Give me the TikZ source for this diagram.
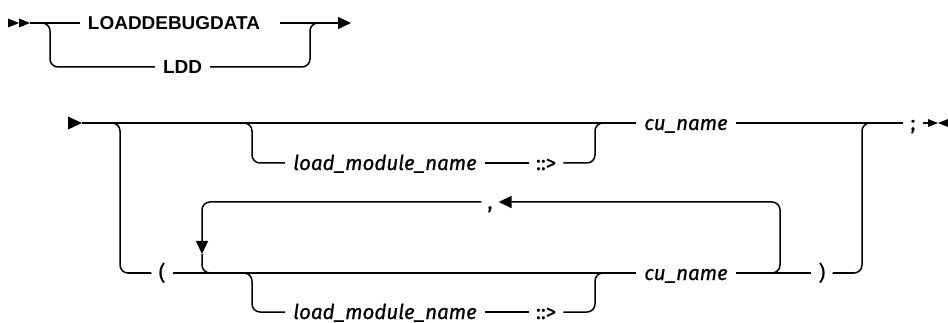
\documentclass[tikz,border=0pt]{standalone}
\usepackage{fontspec}
\usepackage{graphicx}
\setmainfont{Fira Sans}[FakeBold=0.8]
\newfontfamily\kwfont{Liberation Sans}
\usetikzlibrary{arrows.meta}
\tikzset{
  ln/.style={line width=1.5pt, line cap=butt},
  rr/.style={ln, rounded corners=8pt},
  kw/.style={font=\kwfont\bfseries\fontsize{18.7}{20}\selectfont, inner ysep=0pt, inner xsep=8pt, text height=13pt, text depth=0pt},
  var/.style={font=\fontsize{20.5}{22}\selectfont\itshape, inner ysep=0pt, inner xsep=8pt, text height=14pt, text depth=0pt},
  sym/.style={font=\fontsize{20.5}{22}\selectfont, inner ysep=0pt, inner xsep=7pt, text height=14pt, text depth=0pt},
  tip/.style={-{Triangle[length=13pt,width=12pt]}},
  blk/.style={fill=black, draw=none}
}
\begin{document}
\begin{tikzpicture}[x=1pt,y=-1pt]
\useasboundingbox (0,0) rectangle (948,323);
% ---------- row 1 ----------
\node[kw] (kwlong) at (174,23) {\resizebox{172pt}{13pt}{LOADDEBUGDATA}};
\node[kw] (kwshort) at (182.5,67) {\resizebox{39pt}{13pt}{LDD}};
\coordinate (s1) at (30,23);
\coordinate (j1) at (42,23);
\coordinate (k1) at (50,67);
\coordinate (k2) at (310,23);
\coordinate (j2) at (320,23);
\coordinate (e1) at (351,23);
\fill[blk] (8,18.5) -- (19,23) -- (8,27.5) -- cycle;
\fill[blk] (19,18.5) -- (30,23) -- (19,27.5) -- cycle;
\draw[ln] (s1) -- (kwlong.west);
\draw[ln] ([xshift=12pt]kwlong.east) -- (j2);
\draw[ln,tip] (j2) -- (e1);
\draw[rr] (j1) -| (k1) -- (kwshort.west);
\draw[rr] (kwshort.east) -| (k2) -- (j2);
% ---------- row 2 ----------
\node[var] (cu1) at (686,123) {cu\_name};
\node[sym] (semi) at (913,123) {;};
\node[var] (lm1) at (385,163) {load\_module\_name};
\node[sym] (cc1) at (546,163) {::>};
\node[sym] (lp) at (162,273) {(};
\node[var] (cu2) at (686,273) {cu\_name};
\node[sym] (rp) at (822,273) {)};
\node[var] (lm2) at (385,312) {load\_module\_name};
\node[sym] (cc2) at (546,312) {::>};
\node[sym, inner xsep=6pt] (comma) at (490,202) {,};
\coordinate (s2) at (82,123);
\coordinate (j5) at (112,123);
\coordinate (k5) at (120,273);
\coordinate (j3) at (244,123);
\coordinate (k3) at (252,163);
\coordinate (k4) at (595,123);
\coordinate (j4) at (603,123);
\coordinate (k8) at (862,123);
\coordinate (j8) at (870,123);
\coordinate (e2) at (928,123);
\coordinate (j6) at (244,273);
\coordinate (k6) at (252,312);
\coordinate (k7) at (595,273);
\coordinate (j7) at (603,273);
\coordinate (j9) at (770,273);
\coordinate (k9) at (780,202);
\coordinate (k10) at (202,254);
\coordinate (j10) at (214,273);
% start / end marks
\fill[blk] (68,116.5) -- (82,123) -- (68,129.5) -- cycle;
\fill[blk] (928,119) -- (938,123) -- (928,127) -- cycle;
\fill[blk] (948,119) -- (938,123) -- (948,127) -- cycle;
% main line
\draw[ln] (s2) -- (cu1.west);
\draw[ln] (cu1.east) -- (semi.west);
\draw[ln] (semi.east) -- (e2);
% optional load module (top)
\draw[rr] (j3) -| (k3) -- (lm1.west);
\draw[ln] (lm1.east) -- (cc1.west);
\draw[rr] (cc1.east) -| (k4) -- (j4);
% alternative with parentheses
\draw[rr] (j5) -| (k5) -- (lp.west);
\draw[ln] (lp.east) -- (cu2.west);
\draw[ln] (cu2.east) -- (rp.west);
\draw[rr] (rp.east) -| (k8) -- (j8);
% optional load module (bottom)
\draw[rr] (j6) -| (k6) -- (lm2.west);
\draw[ln] (lm2.east) -- (cc2.west);
\draw[rr] (cc2.east) -| (k7) -- (j7);
% repeat loop
\draw[rr,tip] (j9) -| (k9) -- (comma.east);
\draw[rr,tip] (comma.west) -| (k10);
\draw[rr] (k10) |- (j10);
\end{tikzpicture}
\end{document}
